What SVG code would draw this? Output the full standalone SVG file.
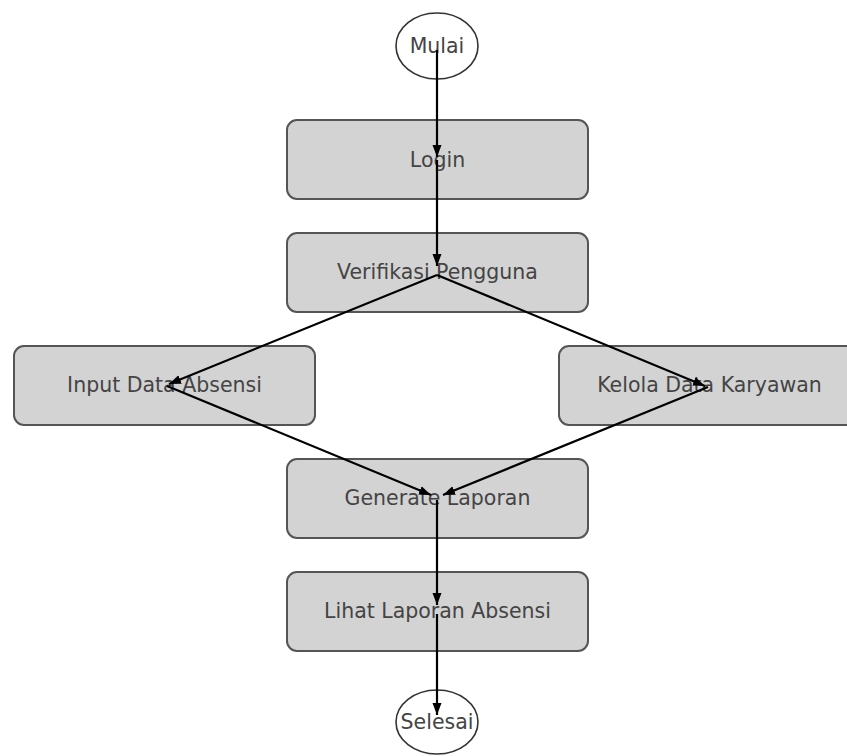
<svg xmlns="http://www.w3.org/2000/svg" width="847" height="756" viewBox="0 0 847 756">
<style>
.box{fill:#d3d3d3;stroke:#555;stroke-width:2}
.term{fill:#fff;stroke:#333;stroke-width:1.6}
.lbl{font-family:"DejaVu Sans",sans-serif;font-size:20.5px;fill:#444;text-anchor:middle;dominant-baseline:central}
.edge{stroke:#000;stroke-width:2.2;fill:none;marker-end:url(#ah)}
</style>
<defs>
<marker id="ah" viewBox="0 0 12 10" refX="12" refY="5" markerWidth="12" markerHeight="10" markerUnits="userSpaceOnUse" orient="auto">
<path d="M0,0.5 L12,5 L0,9.5 Z" fill="#000"/>
</marker>
</defs>
<rect width="847" height="756" fill="#fff"/>
<g id="n-mulai"><ellipse class="term" cx="437" cy="46" rx="41" ry="33"/><text class="lbl" x="437" y="46">Mulai</text></g>
<g id="n-login"><rect class="box" x="287" y="120" width="301" height="79" rx="10"/><text class="lbl" x="437.5" y="160">Login</text></g>
<g id="n-verifikasi"><rect class="box" x="287" y="233" width="301" height="79" rx="10"/><text class="lbl" x="437.5" y="272">Verifikasi Pengguna</text></g>
<g id="n-input"><rect class="box" x="14" y="346" width="301" height="79" rx="10"/><text class="lbl" x="164.5" y="385">Input Data Absensi</text></g>
<g id="n-kelola"><rect class="box" x="559" y="346" width="301" height="79" rx="10"/><text class="lbl" x="709.5" y="385">Kelola Data Karyawan</text></g>
<g id="n-generate"><rect class="box" x="287" y="459" width="301" height="79" rx="10"/><text class="lbl" x="437.5" y="498">Generate Laporan</text></g>
<g id="n-lihat"><rect class="box" x="287" y="572" width="301" height="79" rx="10"/><text class="lbl" x="437.5" y="611">Lihat Laporan Absensi</text></g>
<g id="n-selesai"><ellipse class="term" cx="437" cy="722" rx="41" ry="32"/><text class="lbl" x="437" y="722">Selesai</text></g>
<g id="edges">
<line class="edge" x1="437" y1="50" x2="437" y2="157"/>
<line class="edge" x1="437" y1="160" x2="437" y2="266"/>
<line class="edge" x1="437" y1="275" x2="169" y2="384"/>
<line class="edge" x1="437" y1="275" x2="705" y2="386"/>
<line class="edge" x1="167" y1="386" x2="431" y2="495"/>
<line class="edge" x1="708" y1="387" x2="443" y2="495"/>
<line class="edge" x1="437" y1="500" x2="437" y2="605"/>
<line class="edge" x1="437" y1="614" x2="437" y2="715"/>
</g>
</svg>
